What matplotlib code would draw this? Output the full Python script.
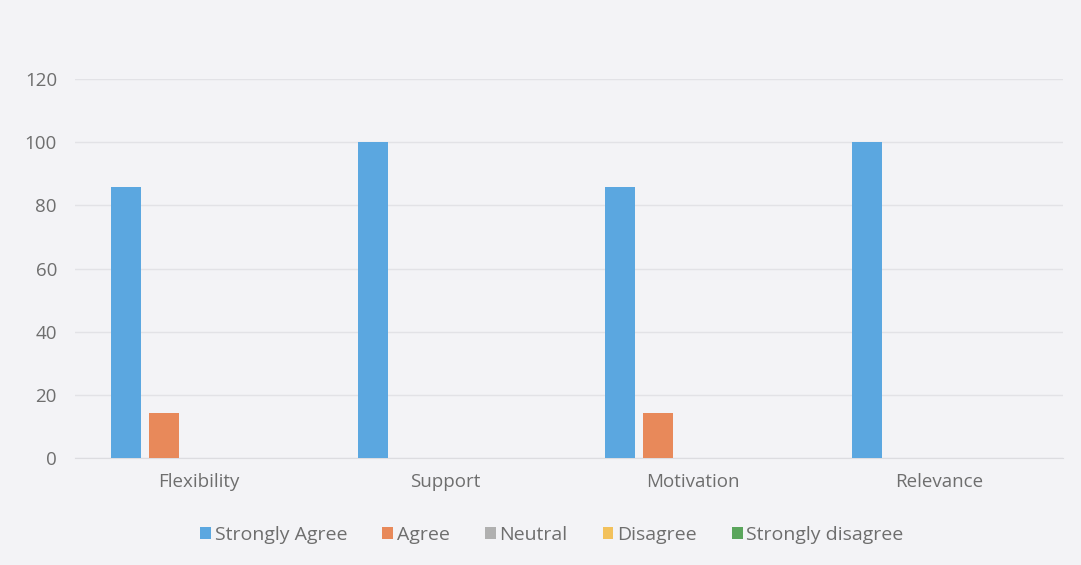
"""Survey responses by aspect: grouped bar chart, Excel-style."""
import matplotlib
matplotlib.use("Agg")
import matplotlib.pyplot as plt
import numpy as np

categories = ["Flexibility", "Support", "Motivation", "Relevance"]
series = ["Strongly Agree", "Agree", "Neutral", "Disagree", "Strongly disagree"]
strongly_agree = [85.7, 100, 85.7, 100]
agree = [14.3, 0, 14.3, 0]
neutral = [0, 0, 0, 0]
disagree = [0, 0, 0, 0]
strongly_disagree = [0, 0, 0, 0]
values = [strongly_agree, agree, neutral, disagree, strongly_disagree]
colors = ["#5ba7e0", "#e8895a", "#b0b0b0", "#f2c15c", "#5aa55c"]

plt.rcParams["font.family"] = ["Open Sans", "DejaVu Sans"]
bg = "#f3f3f6"

fig = plt.figure(figsize=(10.81, 5.65), dpi=100, facecolor=bg)
ax = fig.add_axes([75 / 1081, 1 - 458 / 565, 988 / 1081, (458 - 79) / 565])
ax.set_facecolor(bg)

x = np.arange(len(categories))
step = 0.154
width = 0.122
for i, (name, vals, c) in enumerate(zip(series, values, colors)):
    ax.bar(x + (i - 1.9) * step, vals, width, color=c, label=name, zorder=3)

ax.set_xlim(-0.5, len(categories) - 0.5)
ax.set_ylim(0, 120)
ax.set_yticks(range(0, 121, 20))
ax.set_xticks(x)
ax.set_xticklabels(categories)
ax.grid(axis="y", color="#e2e2e6", linewidth=1, zorder=0)
for s in ["top", "right", "left"]:
    ax.spines[s].set_visible(False)
ax.spines["bottom"].set_color("#dcdce0")
ax.tick_params(axis="both", length=0, labelsize=13.5, colors="#6e6e6e")
ax.tick_params(axis="x", pad=11)
ax.tick_params(axis="y", pad=13)

leg = fig.legend(loc="center", bbox_to_anchor=(552 / 1081, 1 - 535 / 565),
                 ncol=5, frameon=False, fontsize=14, handlelength=0.55,
                 handleheight=0.55, handletextpad=0.2, columnspacing=1.8)
for t in leg.get_texts():
    t.set_color("#6e6e6e")

fig.savefig("out.png", dpi=100, facecolor=bg)
